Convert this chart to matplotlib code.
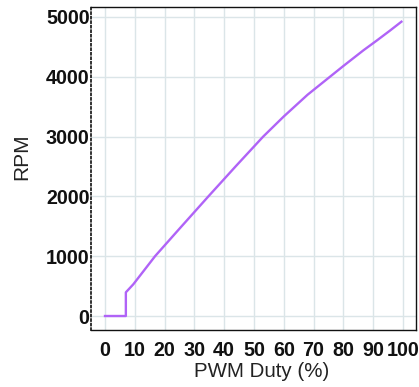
import numpy as np
import matplotlib
matplotlib.use("Agg")
import matplotlib.pyplot as plt

# PWM duty (%) vs fan speed (RPM)
duty = [0, 7, 7, 9.5, 16.8, 25.0, 34.7, 44.0, 53.1, 60.0, 68.0, 75.5, 80.0, 86.7, 91.2, 95.6, 99.5]
rpm = [0, 0, 396, 530, 1000, 1460, 2000, 2510, 3000, 3336, 3700, 4000, 4180, 4441, 4605, 4770, 4921]

xticks = [0, 10, 20, 30, 40, 50, 60, 70, 80, 90, 100]
yticks = [0, 1000, 2000, 3000, 4000, 5000]

plt.rcParams['font.family'] = ['Liberation Sans', 'DejaVu Sans']

fig = plt.figure(figsize=(4.19, 3.87), dpi=100)
ax = fig.add_axes([91/419., 57/387., 325/419., 323/387.])

ax.plot(duty, rpm, color='#b063f7', lw=1.7, solid_joinstyle='round')

ax.set_xlim(-4.7, 104.4)
ax.set_ylim(-234, 5167)
ax.set_xticks(xticks)
ax.set_yticks(yticks)
ax.grid(True, color='#dbe5e8', lw=1.0)
ax.set_axisbelow(True)

ax.tick_params(length=0, labelsize=14.2, colors='#111111')
ax.tick_params(axis='x', pad=8)
ax.tick_params(axis='y', pad=1)
for lab in ax.get_xticklabels() + ax.get_yticklabels():
    lab.set_fontweight('bold')

for s in ['top', 'right', 'bottom']:
    ax.spines[s].set_color('#111111')
    ax.spines[s].set_linewidth(1.0)
ax.spines['left'].set_linestyle((0, (1, 1.5)))
ax.spines['left'].set_linewidth(1.3)
ax.spines['left'].set_color('#222222')

ax.set_xlabel('PWM Duty (%)', fontsize=14.8, color='#222222')
ax.set_ylabel('RPM', fontsize=15, color='#222222')
ax.xaxis.set_label_coords(0.526, -0.13)
ax.yaxis.set_label_coords(-0.212, 0.536)
ax.xaxis.label.set_va('center')
ax.yaxis.label.set_va('center')

fig.savefig('out.png', dpi=100)
